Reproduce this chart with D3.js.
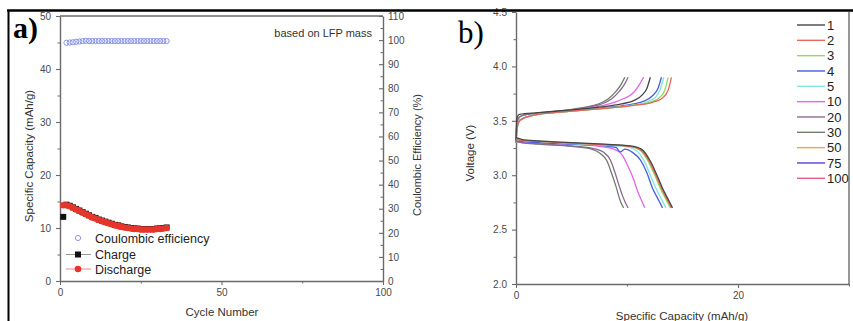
<!DOCTYPE html>
<html><head><meta charset="utf-8">
<script src="https://cdn.jsdelivr.net/npm/d3@7"></script>
<style>
html,body{margin:0;padding:0;background:#fff;}
svg{display:block;font-family:"Liberation Sans",Arial,sans-serif;}
</style></head><body>
<svg id="c" width="853" height="321"></svg>
<script>
// ---------- Panel a data ----------
const cycles = d3.range(1, 34);
const ceCycles = d3.range(2, 34);
const ceValues = [98.9,99.0,99.1,99.3,99.4,99.6,99.7,99.6,99.6,99.6,99.6,99.6,99.6,99.6,99.6,99.6,99.6,99.6,99.6,99.6,99.6,99.6,99.6,99.6,99.6,99.6,99.6,99.6,99.6,99.6,99.6,99.6];
const dischargeValues = [14.3,14.3,14.1,13.8,13.5,13.2,12.9,12.6,12.3,12.0,11.8,11.5,11.3,11.1,10.9,10.7,10.5,10.4,10.2,10.1,10.0,9.9,9.8,9.8,9.7,9.7,9.7,9.7,9.7,9.8,9.8,9.9,10.0];
const chargeValues = [12.1,14.4,14.2,13.9,13.6,13.3,13.0,12.7,12.4,12.1,11.9,11.6,11.4,11.2,11.0,10.8,10.6,10.5,10.3,10.2,10.1,10.0,9.9,9.9,9.8,9.8,9.8,9.8,9.8,9.9,9.9,10.0,10.1];
const aLeftTicks = [0,10,20,30,40,50];
const aRightTicks = [0,10,20,30,40,50,60,70,80,90,100,110];
const aXTicks = [0,50,100];
const aLegend = ["Coulombic efficiency","Charge","Discharge"];

// ---------- Panel b data ----------
const bLegend = ["1","2","3","4","5","10","20","30","50","75","100"];
const bYTicks = [2.0,2.5,3.0,3.5,4.0,4.5];
const bXTicks = [0,20];
const ch1 = [[0,3.32],[0.04,3.45],[0.1,3.53],[0.3,3.56],[2,3.575],[5,3.6],[7.5,3.625],[9.5,3.655],[10.7,3.69],[11.4,3.74],[11.8,3.8],[12.1,3.9]];
const ch2 = [[0,3.3],[0.08,3.42],[0.25,3.49],[0.6,3.52],[1.5,3.55],[4.5,3.585],[7.5,3.61],[10.5,3.64],[12.3,3.67],[13.2,3.71],[13.7,3.78],[14.0,3.9]];
const ch3 = [[0,3.3],[0.08,3.42],[0.25,3.49],[0.6,3.52],[1.5,3.55],[4.5,3.585],[7.5,3.61],[10.3,3.64],[12.0,3.67],[12.9,3.71],[13.4,3.78],[13.7,3.9]];
const ch4 = [[0,3.3],[0.08,3.42],[0.25,3.49],[0.6,3.52],[1.5,3.55],[4.5,3.585],[7.5,3.615],[10.0,3.645],[11.5,3.68],[12.3,3.73],[12.8,3.8],[13.1,3.9]];
const ch5 = [[0,3.3],[0.08,3.42],[0.25,3.49],[0.6,3.52],[1.5,3.55],[4.5,3.585],[7.5,3.612],[10.2,3.64],[11.8,3.675],[12.6,3.72],[13.0,3.79],[13.3,3.9]];
const ch10 = [[0,3.3],[0.08,3.42],[0.25,3.49],[0.6,3.52],[1.5,3.55],[4.5,3.59],[6.8,3.62],[8.4,3.655],[9.6,3.7],[10.6,3.76],[11.1,3.83],[11.5,3.9]];
const ch20 = [[0,3.3],[0.06,3.45],[0.2,3.52],[0.6,3.55],[2,3.57],[4.5,3.595],[6.3,3.62],[7.6,3.65],[8.6,3.7],[9.3,3.77],[9.8,3.84],[10.1,3.9]];
const ch30 = [[0,3.3],[0.06,3.45],[0.2,3.52],[0.6,3.55],[2,3.57],[4.3,3.595],[6.0,3.62],[7.3,3.65],[8.3,3.7],[9.0,3.77],[9.5,3.84],[9.8,3.9]];
const dc1 = [[0,3.345],[0.5,3.33],[2,3.315],[5,3.3],[8,3.285],[10.3,3.27],[11.3,3.24],[12.1,3.13],[12.7,3.0],[13.2,2.88],[13.7,2.78],[14.1,2.7]];
const dc2 = [[0,3.33],[0.5,3.32],[2,3.31],[5,3.295],[8,3.28],[10.3,3.265],[11.2,3.235],[12.0,3.13],[12.6,3.0],[13.1,2.88],[13.6,2.78],[14.0,2.7]];
const dc3 = [[0,3.33],[0.5,3.32],[2,3.31],[5,3.295],[8,3.28],[10.2,3.265],[11.1,3.235],[11.9,3.13],[12.5,3.0],[13.0,2.88],[13.5,2.78],[13.9,2.7]];
const dc4 = [[0,3.32],[0.5,3.31],[2,3.3],[5,3.285],[8,3.27],[9.0,3.255],[9.4,3.215],[9.8,3.24],[10.5,3.21],[11.2,3.14],[11.8,3.02],[12.3,2.88],[12.8,2.78],[13.2,2.7]];
const dc5 = [[0,3.33],[0.5,3.32],[2,3.31],[5,3.29],[8,3.275],[9.8,3.265],[10.8,3.23],[11.6,3.12],[12.1,3.0],[12.6,2.88],[13.1,2.78],[13.5,2.7]];
const dc10 = [[0,3.32],[0.5,3.31],[2,3.3],[5,3.285],[7.5,3.265],[8.8,3.24],[9.6,3.18],[10.1,3.08],[10.6,2.96],[11.0,2.84],[11.3,2.77],[11.6,2.7]];
const dc20 = [[0,3.31],[0.5,3.3],[2,3.29],[5,3.27],[7,3.245],[7.9,3.21],[8.5,3.14],[8.9,3.03],[9.3,2.9],[9.6,2.81],[9.85,2.75],[10.1,2.7]];
const dc30 = [[0,3.31],[0.5,3.3],[2,3.285],[5,3.265],[6.8,3.24],[7.6,3.2],[8.2,3.13],[8.6,3.02],[9.0,2.9],[9.25,2.81],[9.45,2.75],[9.7,2.7]];

// ---------- styles ----------
const bColors = {"1":"#454545","2":"#e8645c","3":"#8fdc5a","4":"#4a5ce0","5":"#80e6e0","10":"#e466e8","20":"#8a6a92","30":"#6e7e6e","50":"#f0a05a","75":"#5a40d6","100":"#e85a88"};
const axisCol = "#6a6a6a", tickTextCol = "#4a4a4a";

const svg = d3.select("#c");

function styleAxis(g){
  g.select(".domain").attr("stroke", axisCol).attr("stroke-width", 1.4);
  g.selectAll(".tick line").attr("stroke", axisCol).attr("stroke-width", 1.1);
  g.selectAll(".tick text").attr("fill", tickTextCol).style("font-size","10px").style("font-family","'Liberation Sans',Arial,sans-serif");
}
function minor(g){ g.select(".domain").remove(); g.selectAll("text").remove(); g.selectAll(".tick line").attr("stroke", axisCol).attr("stroke-width",1); }

// ================= Panel a =================
const xA = d3.scaleLinear([0,100],[60,383]);
const yA = d3.scaleLinear([0,50],[281,16]);
const yA2 = d3.scaleLinear([0,110],[281,16]);

svg.append("line").attr("x1",60).attr("x2",383).attr("y1",16).attr("y2",16).attr("stroke",axisCol).attr("stroke-width",1.4);

svg.append("g").attr("transform","translate(60,0)").call(d3.axisLeft(yA).tickValues(d3.range(5,50,10)).tickSize(2.5).tickFormat("")).call(minor);
svg.append("g").attr("transform","translate(60,0)").call(d3.axisLeft(yA).tickValues(aLeftTicks).tickSize(4).tickPadding(5).tickSizeOuter(0)).call(styleAxis);
svg.append("g").attr("transform","translate(383,0)").call(d3.axisRight(yA2).tickValues(d3.range(5,110,10)).tickSize(-2.5).tickFormat("")).call(minor);
svg.append("g").attr("transform","translate(383,0)").call(d3.axisRight(yA2).tickValues(aRightTicks).tickSize(-4).tickPadding(5).tickSizeOuter(0)).call(styleAxis);
svg.append("g").attr("transform","translate(0,281)").call(d3.axisBottom(xA).tickValues([25,75]).tickSize(2.5).tickFormat("")).call(minor);
svg.append("g").attr("transform","translate(0,281)").call(d3.axisBottom(xA).tickValues(aXTicks).tickSize(4).tickPadding(4).tickSizeOuter(0)).call(styleAxis);

// charge (mostly hidden behind discharge)
svg.append("g").selectAll("rect").data(cycles).join("rect")
  .attr("x", d => xA(d)-3).attr("y", (d,i) => yA(chargeValues[i])-3).attr("width",6).attr("height",6).attr("fill","#111");
// discharge
svg.append("g").selectAll("circle").data(cycles).join("circle")
  .attr("cx", d => xA(d)).attr("cy", (d,i) => yA(dischargeValues[i])).attr("r",3.3).attr("fill","#e6352c");
// CE
svg.append("g").selectAll("circle").data(ceCycles).join("circle")
  .attr("cx", d => xA(d)).attr("cy", (d,i) => yA2(ceValues[i])).attr("r",2.6).attr("fill","none").attr("stroke","#7f88e6").attr("stroke-width",0.9);

// legend a
const lgA = svg.append("g").style("font-size","12.5px").attr("fill","#222");
const ly = [238, 254.5, 269];
lgA.append("circle").attr("cx",78).attr("cy",ly[0]).attr("r",2.6).attr("fill","none").attr("stroke","#7f88e6").attr("stroke-width",0.9);
lgA.append("line").attr("x1",66).attr("x2",91).attr("y1",ly[1]).attr("y2",ly[1]).attr("stroke","#999").attr("stroke-width",1);
lgA.append("rect").attr("x",75).attr("y",ly[1]-3).attr("width",6).attr("height",6).attr("fill","#111");
lgA.append("line").attr("x1",66).attr("x2",91).attr("y1",ly[2]).attr("y2",ly[2]).attr("stroke","#f08a84").attr("stroke-width",1);
lgA.append("circle").attr("cx",78).attr("cy",ly[2]).attr("r",3.3).attr("fill","#e6352c");
aLegend.forEach((t,i)=> lgA.append("text").attr("x",95).attr("y",ly[i]+4.5).text(t));

svg.append("text").attr("x",372).attr("y",37).attr("text-anchor","end").style("font-size","11px").attr("fill","#333").text("based on LFP mass");
svg.append("text").attr("transform","translate(33,156) rotate(-90)").attr("text-anchor","middle").style("font-size","11.5px").attr("fill","#333").text("Specific Capacity (mAh/g)");
svg.append("text").attr("transform","translate(421,155) rotate(-90)").attr("text-anchor","middle").style("font-size","11px").attr("fill","#333").text("Coulombic Efficiency (%)");
svg.append("text").attr("x",222).attr("y",316).attr("text-anchor","middle").style("font-size","11.5px").attr("fill","#333").text("Cycle Number");
svg.append("text").attr("x",13).attr("y",38).style("font-family","'Liberation Serif','Times New Roman',serif").style("font-weight","bold").style("font-size","30px").attr("fill","#000").text("a)");

// ================= Panel b =================
const xB = d3.scaleLinear([0,30],[516,849]);
const yB = d3.scaleLinear([2,4.5],[284,12]);

svg.append("line").attr("x1",849).attr("x2",849).attr("y1",12).attr("y2",284).attr("stroke",axisCol).attr("stroke-width",1.4);
svg.append("g").attr("transform","translate(516,0)").call(d3.axisLeft(yB).tickValues(d3.range(2.25,4.5,0.5)).tickSize(2.5).tickFormat("")).call(minor);
svg.append("g").attr("transform","translate(516,0)").call(d3.axisLeft(yB).tickValues(bYTicks).tickSize(4).tickPadding(5).tickSizeOuter(0).tickFormat(d3.format(".1f"))).call(styleAxis);
svg.append("g").attr("transform","translate(0,284)").call(d3.axisBottom(xB).tickValues([10,30]).tickSize(2.5).tickFormat("")).call(minor);
svg.append("g").attr("transform","translate(0,284)").call(d3.axisBottom(xB).tickValues(bXTicks).tickSize(4).tickPadding(4).tickSizeOuter(0)).call(styleAxis);

const lineB = d3.line().x(d=>xB(d[0])).y(d=>yB(d[1])).curve(d3.curveMonotoneX);
const curves = [
  ["30",ch30],["20",ch20],["10",ch10],["4",ch4],["5",ch5],["3",ch3],["2",ch2],["1",ch1],
  ["30",dc30],["20",dc20],["10",dc10],["4",dc4],["5",dc5],["3",dc3],["2",dc2],["1",dc1]
];
svg.append("g").selectAll("path").data(curves).join("path")
  .attr("d", d => lineB(d[1])).attr("fill","none").attr("stroke", d => bColors[d[0]]).attr("stroke-width",1.3);

const lgB = svg.append("g").style("font-size","13px").attr("fill","#222");
bLegend.forEach((t,i)=>{
  const y = 25 + i*15.33;
  lgB.append("line").attr("x1",797).attr("x2",825).attr("y1",y).attr("y2",y).attr("stroke",bColors[t]).attr("stroke-width",1.4);
  lgB.append("text").attr("x",827).attr("y",y+4.6).text(t);
});

svg.append("text").attr("transform","translate(474,153) rotate(-90)").attr("text-anchor","middle").style("font-size","11.5px").attr("fill","#333").text("Voltage (V)");
svg.append("text").attr("x",682).attr("y",320).attr("text-anchor","middle").style("font-size","11.5px").attr("fill","#333").text("Specific Capacity (mAh/g)");
svg.append("text").attr("x",458).attr("y",43).style("font-family","'Liberation Serif','Times New Roman',serif").style("font-size","31px").attr("fill","#000").text("b)");

// outer frame
svg.append("line").attr("x1",7).attr("x2",853).attr("y1",10.5).attr("y2",10.5).attr("stroke","#000").attr("stroke-width",2.5);
svg.append("line").attr("x1",8.5).attr("x2",8.5).attr("y1",10).attr("y2",321).attr("stroke","#000").attr("stroke-width",2);
</script>
</body></html>
